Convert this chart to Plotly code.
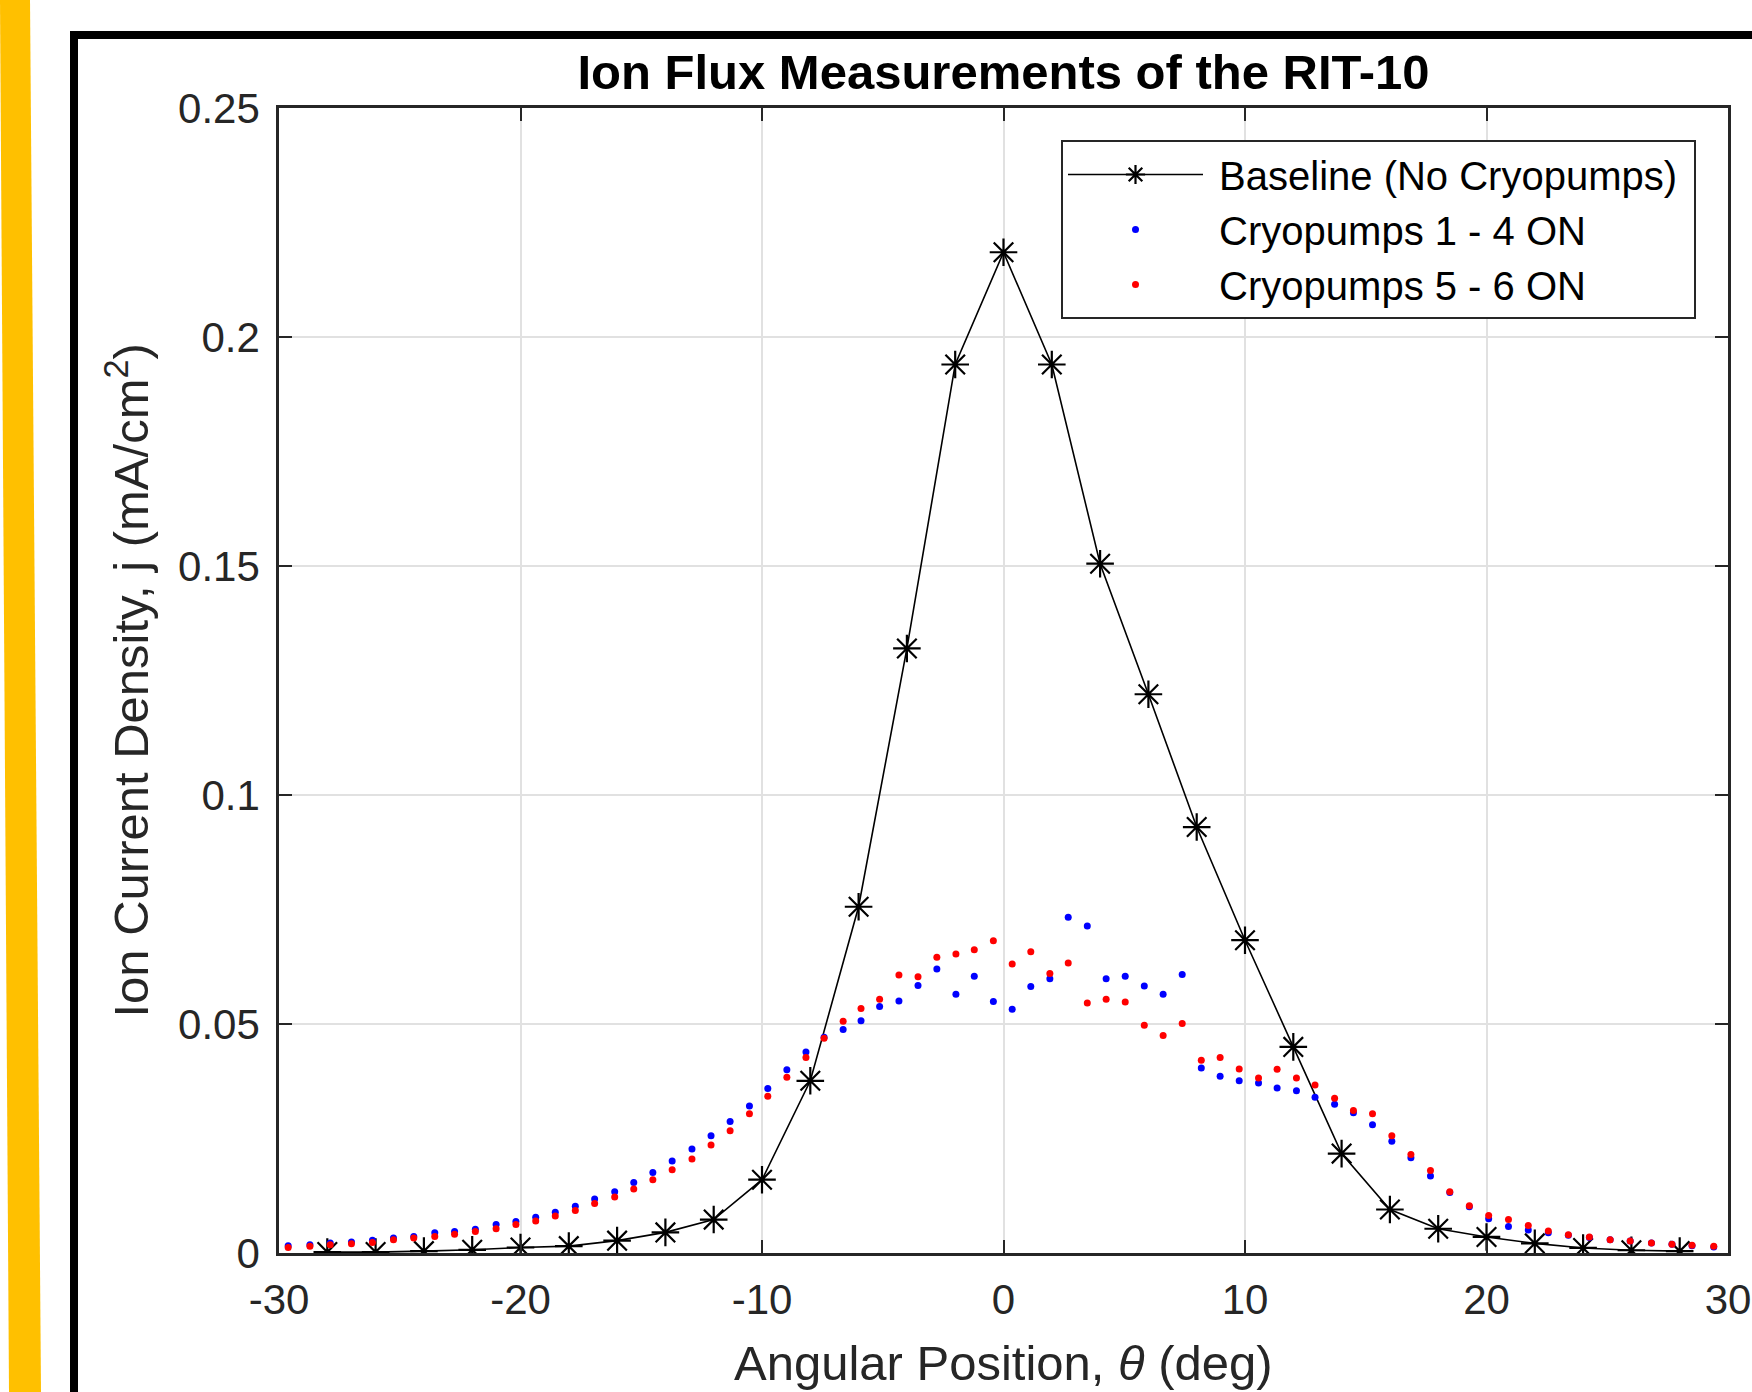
import plotly.graph_objects as go

# ---------------- data ----------------
baseline_theta = [-28, -26, -24, -22, -20, -18, -16, -14, -12, -10, -8, -6, -4, -2, 0,
                  2, 4, 6, 8, 10, 12, 14, 16, 18, 20, 22, 24, 26, 28]
baseline_j = [0.0002, 0.0002, 0.0004, 0.0007, 0.0012, 0.0015, 0.0027, 0.0045, 0.0073, 0.0160,
              0.0376, 0.0756, 0.1320, 0.1940, 0.2185, 0.1940, 0.1505, 0.1220, 0.0930, 0.0683,
              0.0450, 0.0217, 0.0095, 0.0053, 0.0035, 0.0021, 0.0011, 0.0006, 0.0004]

cryo_theta = [-29.62, -28.72, -27.88, -27.00, -26.13, -25.26, -24.42, -23.55, -22.73, -21.87,
              -21.01, -20.19, -19.37, -18.56, -17.73, -16.93, -16.10, -15.31, -14.52, -13.72,
              -12.90, -12.11, -11.32, -10.52, -9.76, -8.97, -8.18, -7.43, -6.64,
              -5.90, -5.13, -4.33, -3.54, -2.76, -1.97, -1.21, -0.42, 0.36, 1.13,
              1.92, 2.68, 3.47, 4.25, 5.04, 5.83, 6.61, 7.40, 8.19, 8.97,
              9.76, 10.56, 11.33, 12.13,
              12.90, 13.71, 14.49, 15.28, 16.08, 16.87, 17.68, 18.48, 19.29, 20.09,
              20.91, 21.73, 22.56, 23.39, 24.26, 25.12, 25.95, 26.83, 27.68, 28.51, 29.41]

cryo14_j = [0.0016, 0.0018, 0.0022, 0.0024, 0.0028, 0.0033, 0.0036, 0.0044, 0.0047, 0.0052,
            0.0062, 0.0069, 0.0078, 0.0089, 0.0102, 0.0118, 0.0134, 0.0154, 0.0176, 0.0201,
            0.0227, 0.0256, 0.0287, 0.0321, 0.0359, 0.0400, 0.0439, 0.0471, 0.0488,
            0.0507, 0.0538, 0.0550, 0.0584, 0.0620, 0.0565, 0.0604, 0.0549, 0.0532, 0.0582,
            0.0599, 0.0733, 0.0714, 0.0599, 0.0604, 0.0583, 0.0565, 0.0608, 0.0404, 0.0386,
            0.0376, 0.0371, 0.0360, 0.0354,
            0.0340, 0.0325, 0.0306, 0.0280, 0.0244, 0.0208, 0.0168, 0.0132, 0.0101, 0.0075,
            0.0058, 0.0050, 0.0044, 0.0039, 0.0034, 0.0029, 0.0026, 0.0022, 0.0019, 0.0016, 0.0013]

cryo56_j = [0.0012, 0.0015, 0.0018, 0.0020, 0.0023, 0.0029, 0.0033, 0.0036, 0.0041, 0.0047,
            0.0053, 0.0062, 0.0070, 0.0081, 0.0093, 0.0108, 0.0122, 0.0140, 0.0160, 0.0182,
            0.0205, 0.0236, 0.0267, 0.0304, 0.0342, 0.0384, 0.0427, 0.0469, 0.0506,
            0.0534, 0.0554, 0.0607, 0.0603, 0.0646, 0.0653, 0.0662, 0.0682, 0.0631, 0.0658,
            0.0610, 0.0633, 0.0546, 0.0554, 0.0548, 0.0497, 0.0475, 0.0501, 0.0421, 0.0427,
            0.0402, 0.0382, 0.0401, 0.0382,
            0.0367, 0.0338, 0.0311, 0.0304, 0.0256, 0.0215, 0.0180, 0.0134, 0.0103, 0.0082,
            0.0073, 0.0060, 0.0048, 0.0040, 0.0035, 0.0029, 0.0026, 0.0022, 0.0019, 0.0017, 0.0015]

series_names = ["Baseline (No Cryopumps)", "Cryopumps 1 - 4 ON", "Cryopumps 5 - 6 ON"]
x_ticks = [-30, -20, -10, 0, 10, 20, 30]
x_tick_labels = ["-30", "-20", "-10", "0", "10", "20", "30"]
y_ticks = [0, 0.05, 0.1, 0.15, 0.2, 0.25]
y_tick_labels = ["0", "0.05", "0.1", "0.15", "0.2", "0.25"]

# ---------------- layout constants ----------------
W, H = 1752, 1392
L, R, T, B = 279, 24, 108, 139
PW, PH = W - L - R, H - T - B
FONT = "Liberation Sans, Arial, Helvetica, sans-serif"
AX = "#262626"
NB = "\u00a0"


def px(xp):
    return (xp - L) / PW


def py(yp):
    return (H - B - yp) / PH


fig = go.Figure()
fig.add_trace(go.Scatter(
    x=baseline_theta, y=baseline_j, mode="lines+markers", name=NB + series_names[0] + NB,
    line=dict(color="black", width=1.6),
    marker=dict(symbol="asterisk-open", size=23, color="black", line=dict(color="black", width=2.2)),
))
fig.add_trace(go.Scatter(
    x=cryo_theta, y=cryo14_j, mode="markers", name=NB + series_names[1],
    marker=dict(symbol="circle", size=7, color="#0000ff", line=dict(width=0)),
))
fig.add_trace(go.Scatter(
    x=cryo_theta, y=cryo56_j, mode="markers", name=NB + series_names[2],
    marker=dict(symbol="circle", size=7, color="#ff0000", line=dict(width=0)),
))

axis_common = dict(
    showgrid=True, gridcolor="#e1e1e1", gridwidth=1.5,
    zeroline=False, showline=True, linecolor=AX, linewidth=2.5, mirror="ticks",
    ticks="inside", ticklen=13, tickwidth=2, tickcolor=AX, automargin=False,
    tickfont=dict(family=FONT, size=42, color=AX),
)

fig.update_xaxes(range=[-30, 30], tickvals=x_ticks, ticktext=x_tick_labels,
                 ticklabelstandoff=8, **axis_common)
fig.update_yaxes(range=[0, 0.25], tickvals=y_ticks, ticktext=y_tick_labels,
                 ticklabelstandoff=8, **axis_common)

shapes = [
    # yellow slanted strip at the left edge
    dict(type="path", xref="paper", yref="paper",
         path=f"M {px(0)},{py(0)} L {px(30)},{py(0)} L {px(41)},{py(H)} L {px(9)},{py(H)} Z",
         fillcolor="#ffc000", line=dict(width=0), layer="below"),
    # thick black frame (extends beyond the page)
    dict(type="rect", xref="paper", yref="paper",
         x0=px(74), y0=py(H + 40), x1=px(W + 40), y1=py(35),
         line=dict(color="black", width=8), fillcolor="rgba(0,0,0,0)", layer="below"),
]

annotations = [
    dict(text="Angular Position, <i>θ</i> (deg)", xref="paper", yref="paper",
         x=0.5, y=py(1363), xanchor="center", yanchor="middle", showarrow=False,
         font=dict(family=FONT, size=49, color=AX)),
    dict(text="Ion Current Density, j (mA/cm<sup>2</sup>)", xref="paper", yref="paper",
         x=px(127), y=0.5, xanchor="center", yanchor="middle", textangle=-90, showarrow=False,
         font=dict(family=FONT, size=49, color=AX)),
]

fig.update_layout(
    width=W, height=H,
    margin=dict(l=L, r=R, t=T, b=B, autoexpand=False),
    paper_bgcolor="white", plot_bgcolor="white",
    title=dict(text="<b>Ion Flux Measurements of the RIT-10</b>", x=0.5, xref="paper",
               y=1 - 72 / H, yref="container", xanchor="center", yanchor="middle",
               font=dict(family=FONT, size=49, color="black")),
    legend=dict(x=px(1061), y=py(140), xanchor="left", yanchor="top",
                bgcolor="white", bordercolor=AX, borderwidth=2,
                font=dict(family=FONT, size=40, color="black"),
                itemwidth=135, tracegroupgap=0),
    shapes=shapes, annotations=annotations,
    showlegend=True,
)

fig.write_html("out.html", config={"displayModeBar": False},
               post_script="document.body.style.margin='0px';")
